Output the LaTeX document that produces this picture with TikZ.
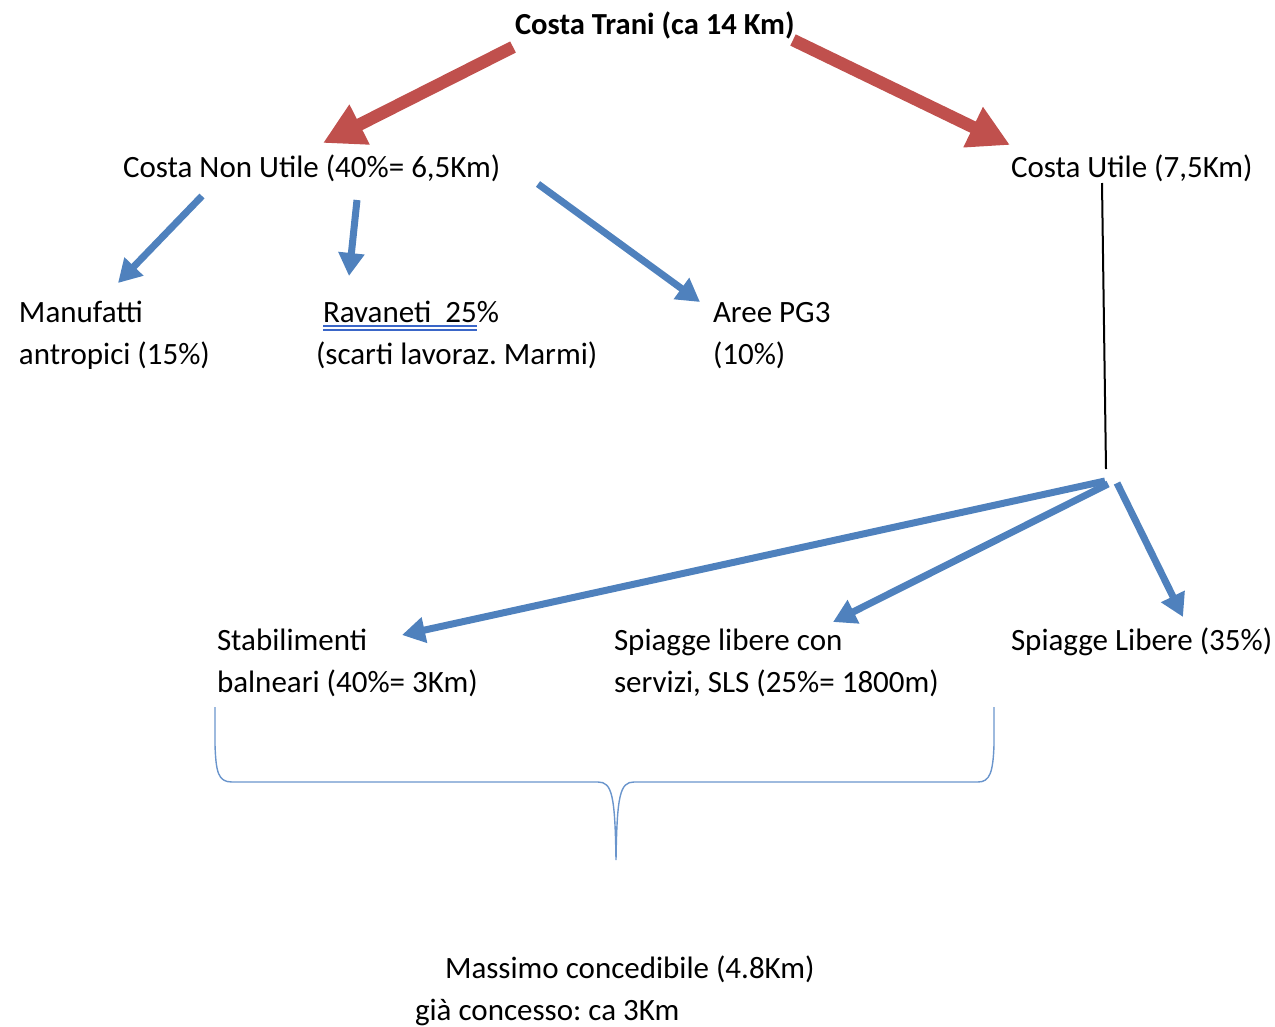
\documentclass[tikz,border=0pt]{standalone}
\usepackage{fontspec}
\setmainfont{Carlito}
\usetikzlibrary{arrows.meta}
\definecolor{ared}{HTML}{C0504D}
\definecolor{ablue}{HTML}{4F81BD}
\definecolor{bracec}{HTML}{6A95CC}
\definecolor{ulblue}{HTML}{3A66C8}
\begin{document}
\frenchspacing
\begin{tikzpicture}[x=1pt,y=-1pt,
  every node/.style={inner sep=0pt, outer sep=0pt, font=\fontsize{31}{42}\selectfont},
  lbl/.style={anchor=base west, align=left},
  redarr/.style={ared, line width=12.5pt, -{Triangle[length=41pt,width=42pt]}},
  bluearr/.style={ablue, line width=7pt, -{Triangle[length=23pt,width=25pt]}},
  bracestyle/.style={bracec, line width=1.4pt},
  ulstyle/.style={ulblue, line width=1.1pt}]
\useasboundingbox (0,0) rectangle (1275,1026);
% texts (base anchor = baseline of the last line)
\node[lbl, font=\fontsize{30.6}{42}\selectfont\bfseries] (trani) at (515,34) {Costa Trani (ca 14 Km)};
\node[lbl] (nonutile) at (123,177) {Costa Non Utile (40\%= 6,5Km)};
\node[lbl] (utile) at (1011,177) {Costa Utile (7,5Km)};
\node[lbl] (manuf) at (19,364) {Manufatti\\antropici (15\%)};
\node[lbl] (ravan) at (316,364) {\hspace*{7pt}Ravaneti\ \ 25\%\\(scarti lavoraz. Marmi)};
\node[lbl] (pg3) at (713,364) {Aree PG3\\(10\%)};
\node[lbl] (stab) at (217,692) {Stabilimenti\\balneari (40\%= 3Km)};
\node[lbl] (sls) at (614,692) {Spiagge libere con\\servizi, SLS (25\%= 1800m)};
\node[lbl] (libere) at (1011,650) {Spiagge Libere (35\%)};
\node[lbl] (massimo) at (445,978) {Massimo concedibile (4.8Km)};
\node[lbl] (gia) at (415,1020) {già concesso: ca 3Km};
% underline (spell-check style double line)
\draw[ulstyle] (323,326) -- (477,326);
\draw[ulstyle] (323,330) -- (477,330);
% connector coordinates
\coordinate (r1s) at (513,47);
\coordinate (r1e) at (323,143);
\coordinate (r2s) at (793,40);
\coordinate (r2e) at (1010,145);
\coordinate (b1s) at (202,196);
\coordinate (b1e) at (118,283);
\coordinate (b2s) at (357,200);
\coordinate (b2e) at (349,276);
\coordinate (b3s) at (538,184);
\coordinate (b3e) at (700,302);
\coordinate (us) at (1102,183);
\coordinate (split) at (1106,469);
\coordinate (b4s) at (1105,481);
\coordinate (b4e) at (402,635);
\coordinate (b5s) at (1108,484);
\coordinate (b5e) at (833,622);
\coordinate (b6s) at (1117,483);
\coordinate (b6e) at (1183,617);
% red arrows
\draw[redarr] (r1s) -- (r1e);
\draw[redarr] (r2s) -- (r2e);
% blue arrows
\draw[bluearr] (b1s) -- (b1e);
\draw[bluearr] (b2s) -- (b2e);
\draw[bluearr] (b3s) -- (b3e);
\draw[black, line width=2pt] (us) -- (split);
\draw[bluearr] (b4s) -- (b4e);
\draw[bluearr] (b5s) -- (b5e);
\draw[bluearr] (b6s) -- (b6e);
% brace
\coordinate (braceL) at (215,707);
\coordinate (braceR) at (994,707);
\coordinate (braceTip) at (616,860);
\draw[bracestyle] (braceL) -- (215,745) .. controls (216,772) and (218,782) .. (232,782)
  -- (598,782) .. controls (612,782) and (615,795) .. (braceTip)
  .. controls (617,795) and (620,782) .. (634,782)
  -- (978,782) .. controls (990,782) and (993,772) .. (994,745) -- (braceR);
\end{tikzpicture}
\end{document}
